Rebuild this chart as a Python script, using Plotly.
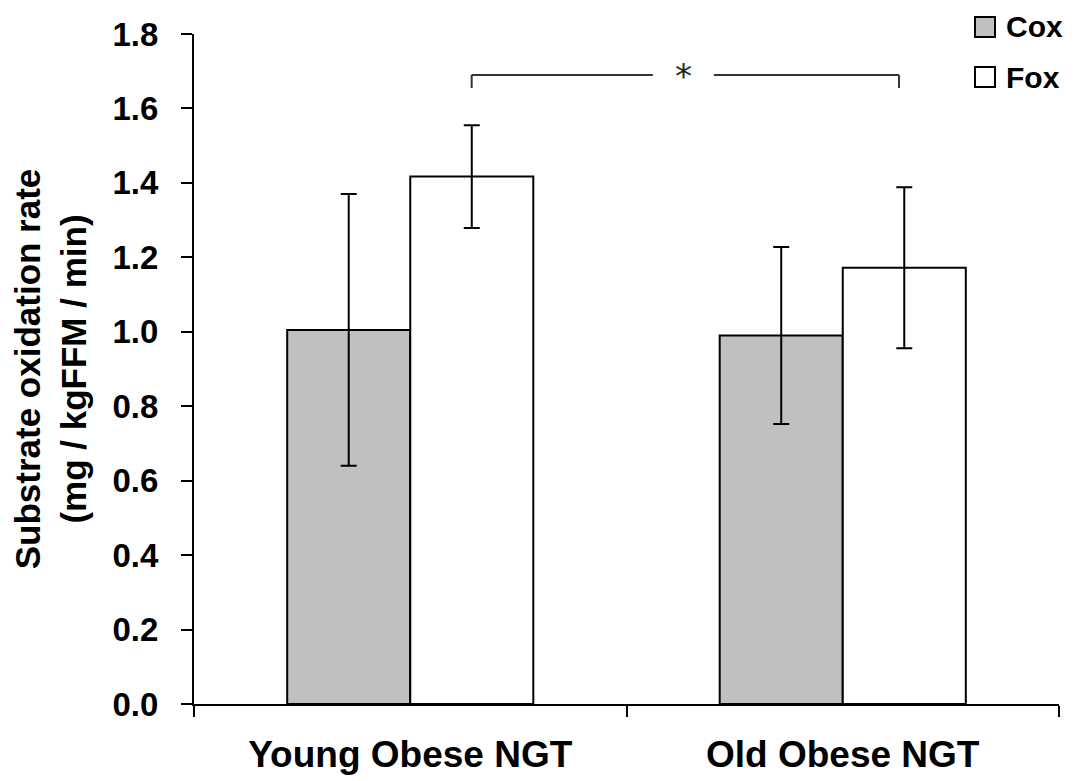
import plotly.graph_objects as go

categories = ["Young Obese NGT", "Old Obese NGT"]
series_names = ["Cox", "Fox"]
cox_values = [1.005, 0.99]
cox_errors = [0.365, 0.238]
fox_values = [1.417, 1.172]
fox_errors = [0.138, 0.216]
series_colors = ["#c0c0c0", "#ffffff"]
y_ticks = [0.0, 0.2, 0.4, 0.6, 0.8, 1.0, 1.2, 1.4, 1.6, 1.8]
sig_label = "*"
sig_level = 1.69

FONT = "Liberation Sans, Arial, sans-serif"
# the page places the figure 8px from the top-left corner
OFF = 8
W, H = 1072, 773
L, T = 194 - OFF, 34 - OFF
R = W - (1059 - OFF)
B = H - (704 - OFF)
PW, PH = W - L - R, H - T - B

fig = go.Figure()
for name, vals, errs, col in [
    (series_names[0], cox_values, cox_errors, series_colors[0]),
    (series_names[1], fox_values, fox_errors, series_colors[1]),
]:
    fig.add_trace(go.Bar(
        name=name, x=categories, y=vals, showlegend=False,
        marker=dict(color=col, line=dict(color="black", width=2)),
        error_y=dict(type="data", array=errs, visible=True,
                     color="black", thickness=2, width=8),
    ))

# significance bracket between Fox bars
left, right = 0.142, 1.13
gap_l, gap_r = 0.561, 0.702
drop = 0.035
line = dict(color="#333333", width=2)
fig.add_shape(type="line", xref="x", yref="y", x0=left, x1=left, y0=sig_level - drop, y1=sig_level, line=line)
fig.add_shape(type="line", xref="x", yref="y", x0=left, x1=gap_l, y0=sig_level, y1=sig_level, line=line)
fig.add_shape(type="line", xref="x", yref="y", x0=gap_r, x1=right, y0=sig_level, y1=sig_level, line=line)
fig.add_shape(type="line", xref="x", yref="y", x0=right, x1=right, y0=sig_level - drop, y1=sig_level, line=line)
fig.add_annotation(x=(gap_l + gap_r) / 2, y=sig_level, xref="x", yref="y",
                   text=sig_label, showarrow=False, yanchor="middle", yshift=-1,
                   font=dict(family="DejaVu Sans, sans-serif", size=34, color="#222"))

# legend (squares + labels), placed in paper coordinates (page pixels in)
def px_to_paper_x(px):
    return (px - OFF - L) / PW

def py_to_paper_y(py):
    return (H - B - (py - OFF)) / PH

for i, (name, col) in enumerate(zip(series_names, series_colors)):
    cy = 27 + i * 50
    fig.add_shape(type="rect", xref="paper", yref="paper",
                  x0=px_to_paper_x(975), x1=px_to_paper_x(995),
                  y0=py_to_paper_y(cy + 10), y1=py_to_paper_y(cy - 10),
                  fillcolor=col, line=dict(color="black", width=2))
    fig.add_annotation(xref="paper", yref="paper",
                       x=px_to_paper_x(1004), y=py_to_paper_y(cy),
                       text=name, showarrow=False, xanchor="left", yanchor="middle",
                       font=dict(family=FONT, size=30, color="black", weight="bold"))

fig.update_layout(
    width=W, height=H,
    margin=dict(l=L, r=R, t=T, b=B, autoexpand=False),
    paper_bgcolor="white", plot_bgcolor="white",
    barmode="group", bargap=0.431, bargroupgap=0,
    font=dict(family=FONT, color="black"),
    showlegend=False,
    xaxis=dict(
        showline=True, linecolor="black", linewidth=2,
        ticks="outside", ticklen=11, tickwidth=1.5, tickcolor="black",
        tickson="boundaries", range=[-0.5, 1.5],
        tickfont=dict(family=FONT, size=37, color="black", weight="bold"),
        ticklabelstandoff=17, showgrid=False, zeroline=False,
    ),
    yaxis=dict(
        range=[0, 1.8], tickvals=y_ticks, tickformat=".1f",
        showline=True, linecolor="black", linewidth=2,
        ticks="outside", ticklen=11, tickwidth=1.5, tickcolor="black",
        tickfont=dict(family=FONT, size=33, color="black", weight="bold"),
        ticklabelstandoff=16, showgrid=False, zeroline=False,
        title=dict(text="Substrate oxidation rate<br>(mg / kgFFM / min)",
                   font=dict(family=FONT, size=35, color="black", weight="bold"),
                   standoff=16),
    ),
)

fig.write_html("out.html")
